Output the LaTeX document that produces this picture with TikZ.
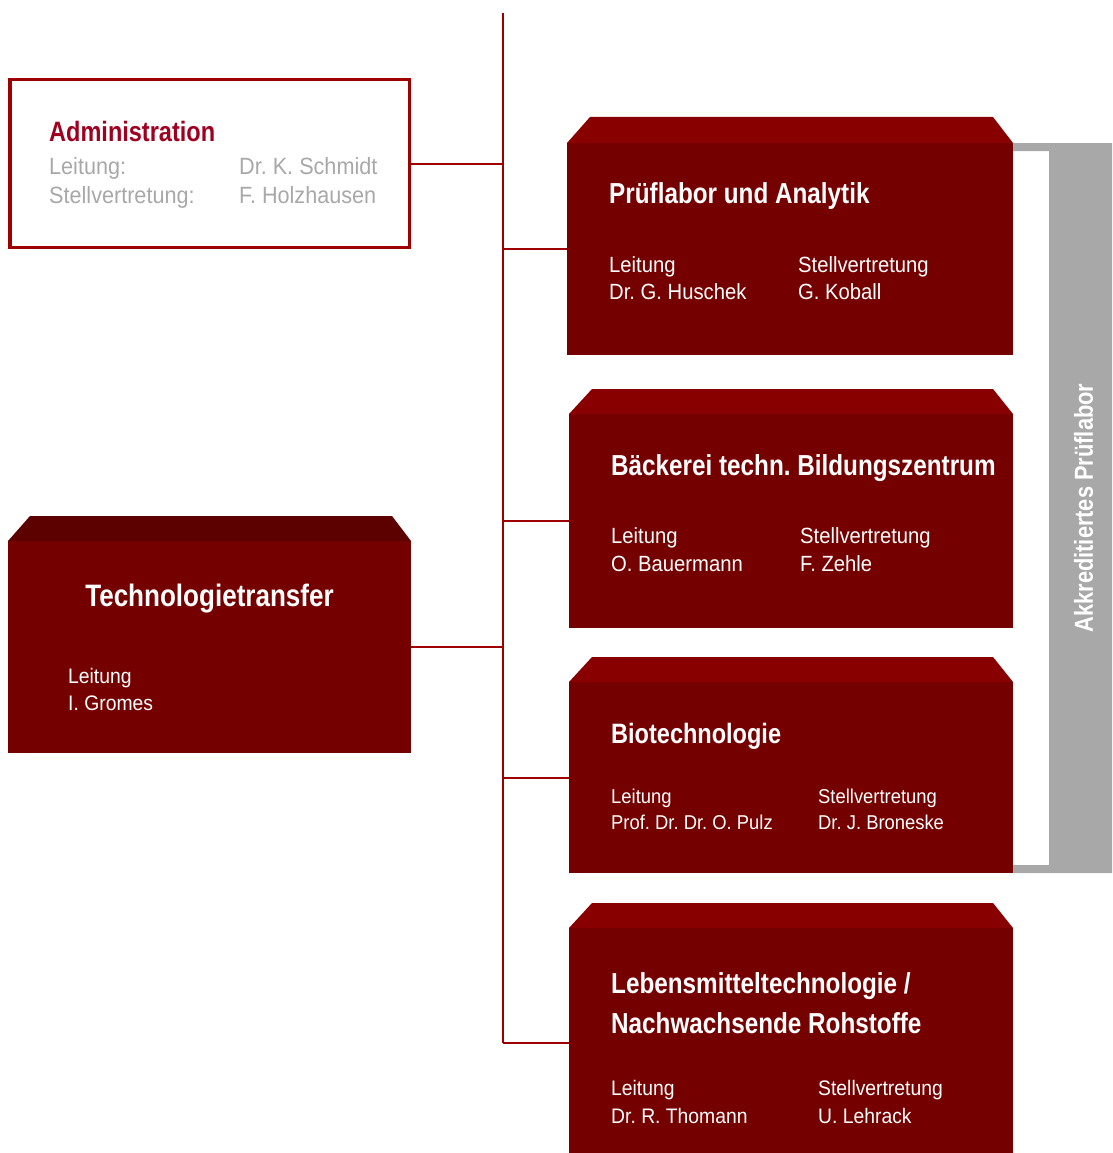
\documentclass[tikz,border=0pt]{standalone}
\usepackage{fontspec}
\setmainfont{Liberation Sans}[FakeStretch=0.92]
\newfontfamily\headfont{Liberation Sans}[FakeStretch=0.84]
\usetikzlibrary{calc}
\frenchspacing

\definecolor{boxred}{RGB}{117,0,0}
\definecolor{bevelred}{RGB}{136,0,0}
\definecolor{beveldark}{RGB}{92,0,0}
\definecolor{linered}{RGB}{158,0,0}
\definecolor{admred}{RGB}{160,0,32}
\definecolor{softgray}{RGB}{168,168,168}

\tikzset{
  unitbox/.style={fill=boxred, inner sep=0pt, outer sep=0pt, anchor=north west},
  headtext/.style={anchor=base west, inner sep=0pt, text=white,
    font=\headfont\bfseries\fontsize{28.9}{34}\selectfont},
  infotext/.style={anchor=base west, inner sep=0pt, text=white,
    font=\fontsize{22}{26}\selectfont},
  link/.style={linered, line width=2pt},
}

\begin{document}
\begin{tikzpicture}[x=1pt,y=-1pt]
\clip (0,0) rectangle (1112,1153);

\coordinate (top) at (503,13);

% Administration
\node[draw=linered, line width=3.5pt, minimum width=399.5pt, minimum height=167.5pt,
  inner sep=0pt, outer sep=0pt, anchor=north west] (adm) at (9.75,79.75) {};
\node[headtext, text=admred, font=\headfont\bfseries\fontsize{28}{32}\selectfont] (admT) at (49,142) {Administration};
\node[infotext, text=softgray, font=\fontsize{23.5}{28}\selectfont] (admL) at (49,174) {Leitung:};
\node[infotext, text=softgray, font=\fontsize{23.5}{28}\selectfont] (admS) at (49,203) {Stellvertretung:};
\node[infotext, text=softgray, font=\fontsize{23.5}{28}\selectfont] (admLn) at (239,174) {Dr. K. Schmidt};
\node[infotext, text=softgray, font=\fontsize{23.5}{28}\selectfont] (admSn) at (239,203) {F. Holzhausen};

% Technologietransfer
\node[unitbox, minimum width=403pt, minimum height=212pt] (tt) at (8,541) {};
\fill[beveldark] (tt.north west) -- ++(22,-25) -- ($(tt.north east)+(-19,-25)$) -- (tt.north east) -- cycle;
\node[headtext, anchor=base, font=\headfont\bfseries\fontsize{31}{36}\selectfont] (ttT) at (209.5,606) {Technologietransfer};
\node[infotext, font=\fontsize{21}{25}\selectfont] (ttL) at (68,683) {Leitung};
\node[infotext, font=\fontsize{21}{25}\selectfont] (ttLn) at (68,710) {I. Gromes};

% Prueflabor
\node[unitbox, minimum width=446pt, minimum height=212pt] (pl) at (567,143) {};
\fill[bevelred] (pl.north west) -- ++(23,-26) -- ($(pl.north east)+(-20,-26)$) -- (pl.north east) -- cycle;
\node[headtext] (plT) at (609,203) {Prüflabor und Analytik};
\node[infotext] (plL) at (609,272) {Leitung};
\node[infotext] (plLn) at (609,299) {Dr. G. Huschek};
\node[infotext] (plS) at (798,272) {Stellvertretung};
\node[infotext] (plSn) at (798,299) {G. Koball};

% Bildungszentrum
\node[unitbox, minimum width=444pt, minimum height=214pt] (bz) at (569,414) {};
\fill[bevelred] (bz.north west) -- ++(23,-25) -- ($(bz.north east)+(-20,-25)$) -- (bz.north east) -- cycle;
\node[headtext] (bzT) at (611,475) {Bäckerei techn. Bildungszentrum};
\node[infotext] (bzL) at (611,543) {Leitung};
\node[infotext] (bzLn) at (611,571) {O. Bauermann};
\node[infotext] (bzS) at (800,543) {Stellvertretung};
\node[infotext] (bzSn) at (800,571) {F. Zehle};

% Biotechnologie
\node[unitbox, minimum width=444pt, minimum height=191pt] (bio) at (569,682) {};
\fill[bevelred] (bio.north west) -- ++(23,-25) -- ($(bio.north east)+(-20,-25)$) -- (bio.north east) -- cycle;
\node[headtext, font=\headfont\bfseries\fontsize{28}{33}\selectfont] (bioT) at (611,743) {Biotechnologie};
\node[infotext, font=\fontsize{20}{24}\selectfont] (bioL) at (611,803) {Leitung};
\node[infotext, font=\fontsize{20}{24}\selectfont] (bioLn) at (611,829) {Prof. Dr. Dr. O. Pulz};
\node[infotext, font=\fontsize{20}{24}\selectfont] (bioS) at (818,803) {Stellvertretung};
\node[infotext, font=\fontsize{20}{24}\selectfont] (bioSn) at (818,829) {Dr. J. Broneske};

% Lebensmitteltechnologie
\node[unitbox, minimum width=444pt, minimum height=230pt] (lm) at (569,928) {};
\fill[bevelred] (lm.north west) -- ++(23,-25) -- ($(lm.north east)+(-20,-25)$) -- (lm.north east) -- cycle;
\node[headtext] (lmT) at (611,993) {Lebensmitteltechnologie /};
\node[headtext] (lmTb) at (611,1033) {Nachwachsende Rohstoffe};
\node[infotext, font=\fontsize{21}{25}\selectfont] (lmL) at (611,1095) {Leitung};
\node[infotext, font=\fontsize{21}{25}\selectfont] (lmLn) at (611,1123) {Dr. R. Thomann};
\node[infotext, font=\fontsize{21}{25}\selectfont] (lmS) at (818,1095) {Stellvertretung};
\node[infotext, font=\fontsize{21}{25}\selectfont] (lmSn) at (818,1123) {U. Lehrack};

% bracket
\fill[softgray] (pl.north east) -- ++(99,0) -- ($(bio.south east)+(99,0)$) -- (bio.south east)
  -- ++(0,-8) -- ++(36,0) |- ($(pl.north east)+(0,8)$) -- cycle;
\node[rotate=90, inner sep=0pt, text=white,
  font=\headfont\bfseries\fontsize{26}{30}\selectfont] (akk) at (1083.5,508) {Akkreditiertes Prüflabor};

% connectors
\draw[link] (top) -- (lm.west -| top);
\draw[link] (adm.east) -- (adm.east -| top);
\draw[link] (tt.east) -- (tt.east -| top);
\draw[link] (top |- pl.west) -- (pl.west);
\draw[link] (top |- bz.west) -- (bz.west);
\draw[link] (top |- bio.west) -- (bio.west);
\draw[link] (top |- lm.west) -- (lm.west);

\end{tikzpicture}
\end{document}
